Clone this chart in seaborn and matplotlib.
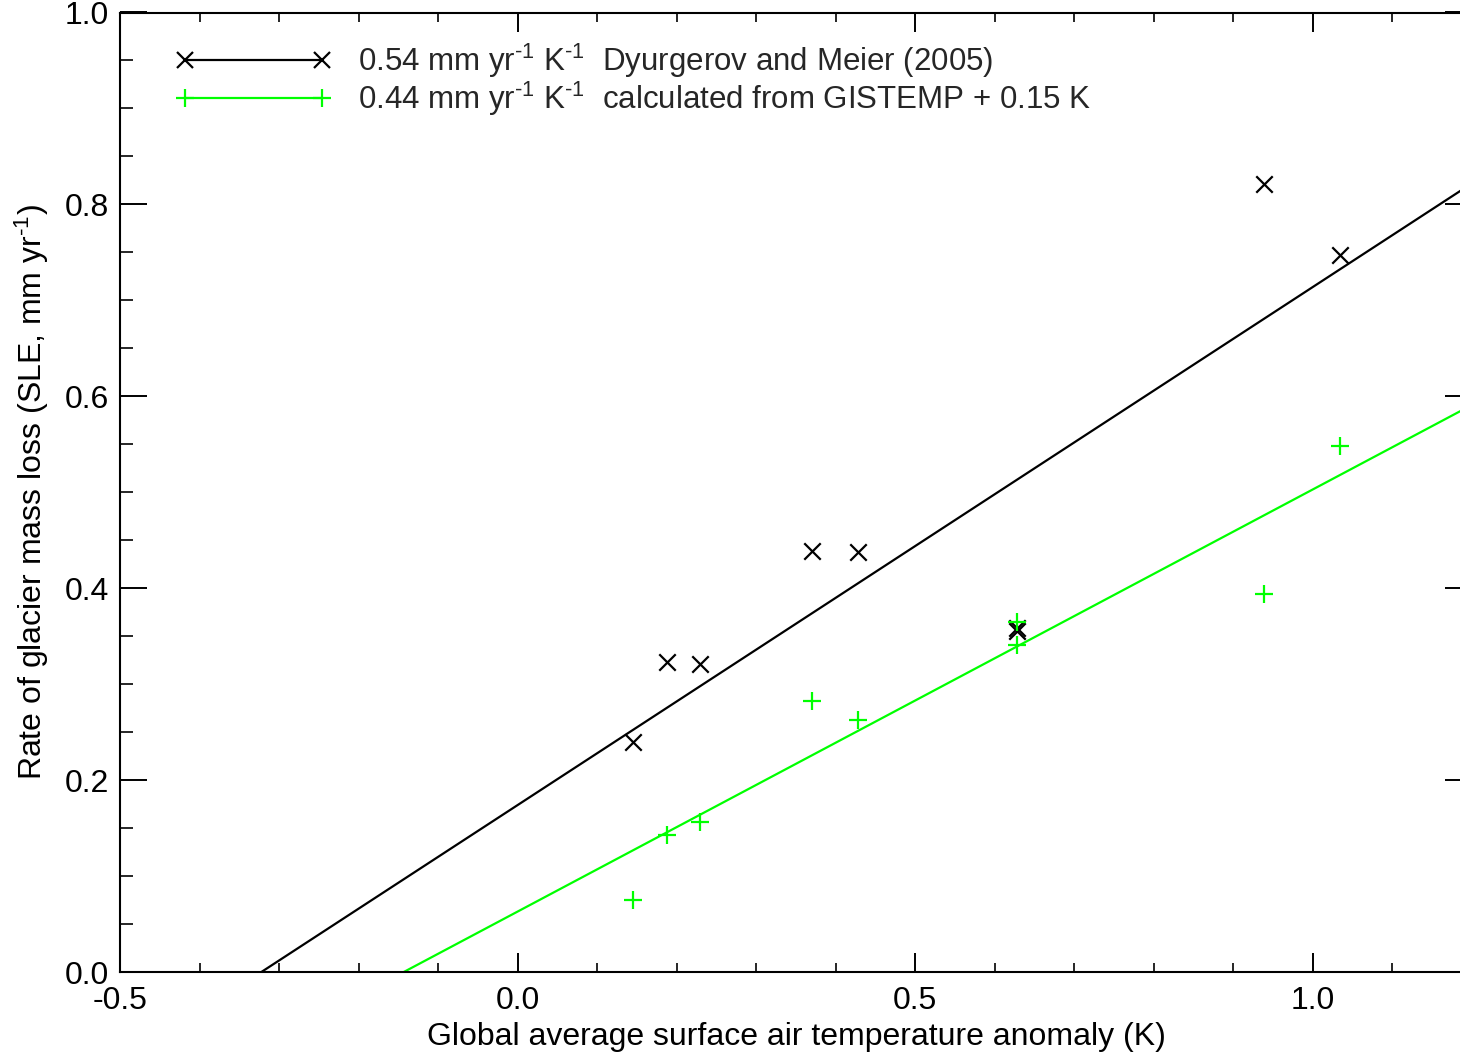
import numpy as np
import pandas as pd
import matplotlib
matplotlib.use("Agg")
import matplotlib.pyplot as plt
from matplotlib.lines import Line2D
from matplotlib.ticker import MultipleLocator, FormatStrFormatter
import seaborn as sns

# Temperature anomalies (K) and glacier mass-loss rates (mm/yr SLE)
temp_anomaly = [0.145, 0.188, 0.229, 0.370, 0.428, 0.628, 0.628, 0.938, 1.034]
loss_dm2005 = [0.240, 0.323, 0.321, 0.439, 0.438, 0.358, 0.355, 0.821, 0.747]
loss_gistemp = [0.075, 0.143, 0.156, 0.282, 0.263, 0.365, 0.341, 0.394, 0.548]

# Linear fits: slopes (mm/yr per K) and intercepts (mm/yr)
slope_dm2005, icpt_dm2005 = 0.54, 0.174
slope_gistemp, icpt_gistemp = 0.44, 0.063

labels = [
    r"0.54 mm yr$^{\text{-1}}$ K$^{\text{-1}}$  Dyurgerov and Meier (2005)",
    r"0.44 mm yr$^{\text{-1}}$ K$^{\text{-1}}$  calculated from GISTEMP + 0.15 K",
]

xlim = (-0.5, 1.2)
ylim = (0.0, 1.0)
FS = 23
LEG_FS = 22.5

sns.set_theme(style="ticks")
plt.rcParams["font.family"] = ["Liberation Sans", "DejaVu Sans"]
plt.rcParams["mathtext.fontset"] = "custom"
plt.rcParams["mathtext.rm"] = "Liberation Sans"
plt.rcParams["mathtext.it"] = "Liberation Sans"
plt.rcParams["axes.unicode_minus"] = False

fig = plt.figure(figsize=(14.6, 10.57), dpi=100)
ax = fig.add_axes([120 / 1460, 1 - 972 / 1057, 1352 / 1460, 959.5 / 1057])

black = "#000000"
green = "#00ff00"

xs = np.array(xlim)
fits = pd.DataFrame({
    "x": np.concatenate([xs, xs]),
    "y": np.concatenate([slope_dm2005 * xs + icpt_dm2005,
                         slope_gistemp * xs + icpt_gistemp]),
    "series": ["dm"] * 2 + ["gis"] * 2,
})
sns.lineplot(data=fits, x="x", y="y", hue="series",
             palette={"dm": black, "gis": green}, linewidth=1.6,
             legend=False, ax=ax)

pts = pd.DataFrame({"x": temp_anomaly, "y": loss_dm2005})
sns.scatterplot(data=pts, x="x", y="y", marker="x", color=black, s=140,
                linewidth=1.6, ax=ax, zorder=3)
pts2 = pd.DataFrame({"x": temp_anomaly, "y": loss_gistemp})
sns.scatterplot(data=pts2, x="x", y="y", marker="+", color=green, s=170,
                linewidth=1.6, ax=ax, zorder=3)

ax.set_xlim(*xlim)
ax.set_ylim(*ylim)

ax.xaxis.set_major_locator(MultipleLocator(0.5))
ax.xaxis.set_minor_locator(MultipleLocator(0.1))
ax.yaxis.set_major_locator(MultipleLocator(0.2))
ax.yaxis.set_minor_locator(MultipleLocator(0.05))
ax.xaxis.set_major_formatter(FormatStrFormatter("%.1f"))
ax.yaxis.set_major_formatter(FormatStrFormatter("%.1f"))

for side in ["top", "right", "left", "bottom"]:
    ax.spines[side].set_visible(True)
    ax.spines[side].set_linewidth(1.5)
    ax.spines[side].set_color("black")

ax.tick_params(axis="x", which="major", direction="in", length=13.5, width=1.4,
               top=True, bottom=True, labelsize=FS, pad=10, colors="black")
ax.tick_params(axis="x", which="minor", direction="in", length=6.5, width=1.4,
               top=True, bottom=True)
ax.tick_params(axis="y", which="major", direction="in", length=19.5, width=1.4,
               left=True, right=True, labelsize=FS, pad=8, colors="black")
ax.tick_params(axis="y", which="minor", direction="in", length=9.5, width=1.4,
               left=True, right=False)

ax.set_xlabel("Global average surface air temperature anomaly (K)", fontsize=FS,
              labelpad=4.5, color="black")
ax.set_ylabel(r"Rate of glacier mass loss (SLE, mm yr$^{\text{-1}}$)",
              fontsize=FS, labelpad=10, color="black")

handles = [
    Line2D([], [], color=black, linewidth=1.6, marker="x", markersize=11,
           markeredgewidth=1.6),
    Line2D([], [], color=green, linewidth=1.6, marker="+", markersize=13,
           markeredgewidth=1.6),
]
ax.legend(handles, labels, loc="upper left", bbox_to_anchor=(0.041, 0.9696),
          frameon=False, numpoints=2, handlelength=4.98, handletextpad=0.86,
          labelspacing=0.0, borderaxespad=0, borderpad=0, fontsize=LEG_FS)

fig.savefig("out.png", dpi=100, facecolor="white")
